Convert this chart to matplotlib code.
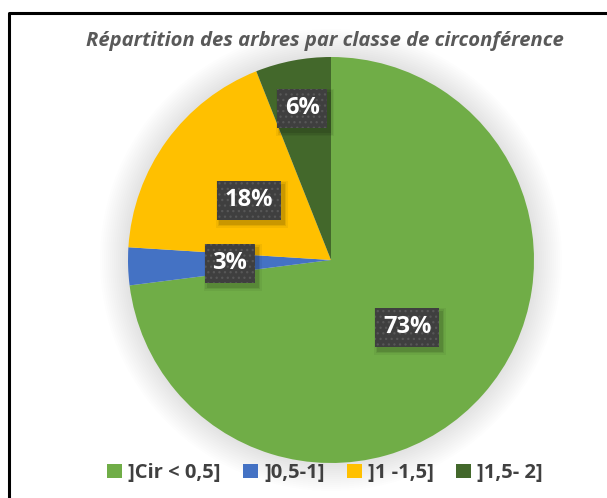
import numpy as np
import matplotlib.pyplot as plt
from matplotlib.patches import Circle, Rectangle

# Répartition des arbres par classe de circonférence
classes = [']Cir < 0,5]', ']0,5-1]', ']1 -1,5]', ']1,5- 2]']
parts = [73, 3, 18, 6]
colors = ['#70AD47', '#4472C4', '#FFC000', '#43682B']
label_dist = [0.5, 0.5, 0.5, 0.76]

plt.rcParams['hatch.linewidth'] = 0.9

W, H = 607, 498
fig = plt.figure(figsize=(W / 100, H / 100), dpi=100)
ax = fig.add_axes([0, 0, 1, 1])

cx, cy, r = 331, 238, 203

# frame (only top and left edges fall inside the image)
ax.plot([8.5, 8.5, W], [0, H - 13, H - 13], color='black', lw=2.2, solid_capstyle='butt')

# soft glow around the pie
for k in range(14):
    ax.add_patch(Circle((cx, cy), r + 28 - 2 * k, color='#000000', alpha=0.006, lw=0, zorder=1))

wedges, _ = ax.pie(parts, colors=colors, startangle=90, counterclock=False,
                   center=(cx, cy), radius=r, frame=True,
                   wedgeprops=dict(linewidth=0, zorder=2))
ax.set_xlim(0, W)
ax.set_ylim(0, H)
ax.set_aspect('equal')
ax.axis('off')

# value labels in dark dotted boxes
total = sum(parts)
start = 90.0
labels = []
for v, d in zip(parts, label_dist):
    mid = np.radians(start - 360.0 * v / total / 2)
    start -= 360.0 * v / total
    x = cx + d * r * np.cos(mid)
    y = cy + d * r * np.sin(mid)
    t = ax.text(x, y, f'{v}%', color='white', zorder=5, ha='center', va='center',
                fontsize=17, fontweight='bold', family='Open Sans',
                bbox=dict(boxstyle='square,pad=0.32', facecolor='#3f3f3f',
                          edgecolor='#575757', lw=0, hatch='...'))
    labels.append(t)

# soft drop shadow under each box (axes units are pixels)
fig.canvas.draw()
inv = ax.transData.inverted()
for t in labels:
    bb = t.get_bbox_patch().get_window_extent()
    (x0, y0), (x1, y1) = inv.transform([[bb.x0, bb.y0], [bb.x1, bb.y1]])
    for g, a in [(4, 0.05), (2.5, 0.07), (1, 0.10)]:
        ax.add_patch(Rectangle((x0 + 3 - g, y0 - 4 - g), x1 - x0 + 2 * g, y1 - y0 + 2 * g,
                               facecolor='black', alpha=a, lw=0, zorder=4))

ax.text(325, H - 41, 'Répartition des arbres par classe de circonférence',
        ha='center', va='center', fontsize=14.6, fontweight='bold', style='italic',
        color='#595959', family='Open Sans')

handles = [Rectangle((0, 0), 1, 1, facecolor=c, lw=0) for c in colors]
fig.legend(handles, classes, loc='center', bbox_to_anchor=(325 / W, 1 - 473 / H),
           ncol=4, frameon=False, handlelength=0.75, handleheight=0.75,
           handletextpad=0.3, columnspacing=1.1,
           prop=dict(family='Open Sans', weight='bold', size=14.5))
for txt in fig.legends[0].get_texts():
    txt.set_color('#404040')

fig.savefig('out.png', dpi=100, facecolor='white')
